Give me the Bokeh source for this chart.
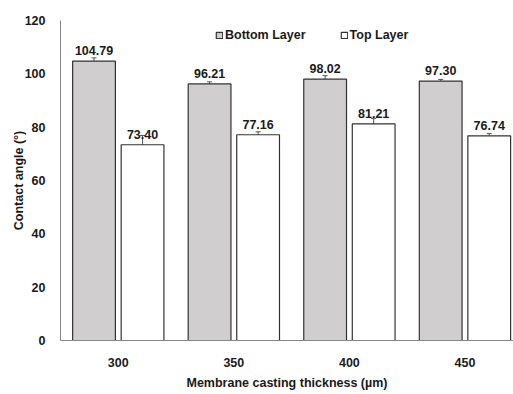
from bokeh.plotting import figure
from bokeh.models import (ColumnDataSource, Range1d, FixedTicker, Whisker, TeeHead,
                          Legend, LegendItem, Title)
from bokeh.core.properties import value
from bokeh.embed import file_html
from bokeh.resources import INLINE

# Contact angle of the two membrane faces for each casting thickness
thickness = ["300", "350", "400", "450"]
bottom_layer = [104.79, 96.21, 98.02, 97.30]
bottom_err = [1.2, 0.8, 1.3, 0.6]
top_layer = [73.40, 77.16, 81.21, 76.74]
top_err = [3.5, 1.1, 2.0, 0.9]

FONT = "Liberation Sans"
FS = "12.5px"
TXT = "#1a1a1a"
AXIS = "#868686"
EDGE = "#333333"

centers = [i + 0.5 for i in range(len(thickness))]
offset = 0.21
bar_w = 0.37

src_b = ColumnDataSource(dict(
    x=[c - offset for c in centers], y=bottom_layer,
    lo=[v - e for v, e in zip(bottom_layer, bottom_err)],
    hi=[v + e for v, e in zip(bottom_layer, bottom_err)],
    txt=[f"{v:.2f}" for v in bottom_layer]))
src_t = ColumnDataSource(dict(
    x=[c + offset for c in centers], y=top_layer,
    lo=[v - e for v, e in zip(top_layer, top_err)],
    hi=[v + e for v, e in zip(top_layer, top_err)],
    txt=[f"{v:.2f}" for v in top_layer]))

p = figure(width=513, height=394, output_backend="svg", toolbar_location=None,
           x_range=Range1d(0, 3.92), y_range=Range1d(0, 120),
           min_border_left=60, min_border_right=0, min_border_top=20,
           min_border_bottom=54)
p.outline_line_color = None
p.grid.visible = False
p.background_fill_color = "white"
p.border_fill_color = "white"

rb = p.vbar(x="x", top="y", width=bar_w, source=src_b,
            fill_color="#d0cece", line_color=EDGE, line_width=1.2)
rt = p.vbar(x="x", top="y", width=bar_w, source=src_t,
            fill_color="white", line_color=EDGE, line_width=1.2)

for src in (src_b, src_t):
    w = Whisker(base="x", lower="lo", upper="hi", source=src,
                line_color="#555555", line_width=1,
                upper_head=TeeHead(size=5, line_color="#555555", line_width=1),
                lower_head=TeeHead(size=5, line_color="#555555", line_width=1))
    p.add_layout(w)
    p.text(x="x", y="y", text="txt", source=src, text_align="center",
           text_baseline="bottom", y_offset=-6,
           text_font=value(FONT), text_font_style="bold",
           text_font_size=FS, text_color=TXT)

# axes
p.xaxis.ticker = FixedTicker(ticks=centers)
p.xaxis.major_label_overrides = {c: t for c, t in zip(centers, thickness)}
p.yaxis.ticker = FixedTicker(ticks=list(range(0, 121, 20)))
for ax in (p.xaxis, p.yaxis):
    ax.axis_line_color = AXIS
    ax.axis_line_width = 1
    ax.major_tick_line_color = None
    ax.minor_tick_line_color = None
    ax.major_label_text_font = FONT
    ax.major_label_text_font_style = "bold"
    ax.major_label_text_font_size = FS
    ax.major_label_text_color = TXT
p.xaxis.major_label_standoff = 11
p.yaxis.major_label_standoff = 9

p.yaxis.axis_label = "Contact angle (°)"
p.yaxis.axis_label_text_font = FONT
p.yaxis.axis_label_text_font_style = "bold"
p.yaxis.axis_label_text_font_size = FS
p.yaxis.axis_label_text_color = TXT
p.yaxis.axis_label_standoff = -4

p.add_layout(Title(text="Membrane casting thickness (µm)", align="center",
                   offset=14, standoff=9, text_font=FONT,
                   text_font_style="bold", text_font_size=FS,
                   text_color=TXT), "below")

legend = Legend(items=[LegendItem(label="Bottom Layer", renderers=[rb]),
                       LegendItem(label="Top Layer", renderers=[rt])],
                orientation="horizontal", location=(155, 298),
                glyph_width=8, glyph_height=8, label_standoff=2, spacing=34,
                padding=0, margin=0, label_height=14,
                border_line_color=None, background_fill_alpha=0,
                label_text_font=FONT, label_text_font_style="bold",
                label_text_font_size=FS, label_text_color=TXT)
p.add_layout(legend)

open("out.html", "w").write(file_html(p, INLINE))
